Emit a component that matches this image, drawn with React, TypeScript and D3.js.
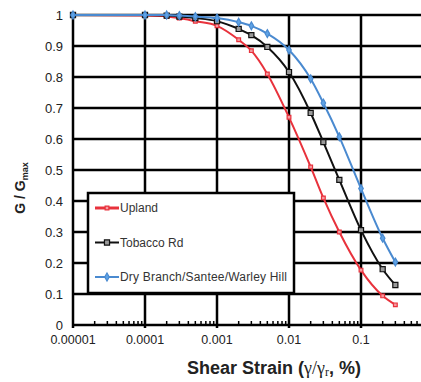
import React, { useEffect, useRef } from 'react';
import * as d3 from 'd3';

const strains = [0.00001, 0.0001, 0.0002, 0.0003, 0.0005, 0.001, 0.002, 0.003, 0.005, 0.01, 0.02, 0.03, 0.05, 0.1, 0.2, 0.3];
const upland = [1, 0.998, 0.995, 0.99, 0.98, 0.965, 0.92, 0.885, 0.81, 0.67, 0.51, 0.41, 0.3, 0.177, 0.094, 0.065];
const tobacco = [1, 1, 0.998, 0.995, 0.99, 0.98, 0.955, 0.935, 0.897, 0.816, 0.684, 0.59, 0.468, 0.306, 0.18, 0.129];
const dryBranch = [1, 1, 1, 0.998, 0.995, 0.99, 0.977, 0.965, 0.94, 0.887, 0.794, 0.716, 0.607, 0.44, 0.28, 0.203];
const seriesNames = ['Upland', 'Tobacco Rd', 'Dry Branch/Santee/Warley Hill'];
const xTicks = [0.00001, 0.0001, 0.001, 0.01, 0.1];
const xTickLabels = ['0.00001', '0.0001', '0.001', '0.01', '0.1'];
const yTicks = [0, 0.1, 0.2, 0.3, 0.4, 0.5, 0.6, 0.7, 0.8, 0.9, 1];

const Chart = ({ width = 421, height = 382 }) => {
  const ref = useRef<SVGSVGElement>(null);

  useEffect(() => {
    const svg = d3.select(ref.current).attr('width', width).attr('height', height);
    svg.selectAll('*').remove();

    const x = d3.scaleLog().domain([1e-5, 1]).range([73, 433]);
    const y = d3.scaleLinear().domain([0, 1]).range([325, 15]);

    const styles = [
      { stroke: '#e8323c', fill: '#f59aa0', shape: d3.symbolSquare, size: 14 },
      { stroke: '#111111', fill: '#9a9a9a', shape: d3.symbolSquare, size: 26 },
      { stroke: '#4a8ad0', fill: '#5fa3e6', shape: d3.symbolDiamond, size: 18 },
    ];
    const values = [upland, tobacco, dryBranch];

    // grid
    const grid = svg.append('g').attr('stroke', '#000').attr('stroke-width', 2.5);
    yTicks.forEach(t => {
      grid.append('line').attr('x1', x(1e-5)).attr('x2', width).attr('y1', y(t)).attr('y2', y(t));
    });
    xTicks.forEach(t => {
      grid.append('line').attr('x1', x(t)).attr('x2', x(t)).attr('y1', y(1)).attr('y2', y(0) + 3);
    });

    // minor ticks on x axis
    const minor: number[] = [];
    for (let e = -5; e < 0; e++) for (let m = 2; m < 10; m++) minor.push(m * Math.pow(10, e));
    svg.append('g').selectAll('line').data(minor).enter().append('line')
      .attr('x1', d => x(d)).attr('x2', d => x(d))
      .attr('y1', y(0)).attr('y2', y(0) - 4)
      .attr('stroke', '#000').attr('stroke-width', 1.5);

    // series
    const line = d3.line<number>()
      .curve(d3.curveMonotoneX)
      .x((_, i) => x(strains[i]))
      .y(d => y(d));

    values.forEach((vals, k) => {
      const s = styles[k];
      svg.append('path').attr('d', line(vals))
        .attr('fill', 'none').attr('stroke', s.stroke).attr('stroke-width', 2);
      svg.append('g').selectAll('path').data(vals).enter().append('path')
        .attr('d', d3.symbol().type(s.shape).size(s.size)())
        .attr('transform', (d, i) => `translate(${x(strains[i])},${y(d)})`)
        .attr('fill', s.fill).attr('stroke', s.stroke).attr('stroke-width', 1.2);
    });

    // axis labels
    svg.append('g').selectAll('text').data(yTicks).enter().append('text')
      .attr('x', 63).attr('y', d => y(d)).attr('dy', '0.35em')
      .attr('text-anchor', 'end')
      .style('font', '13px "Liberation Sans", Arial, sans-serif').attr('fill', '#222')
      .text(d => (d === 0 || d === 1 ? String(d) : d.toFixed(1)));

    svg.append('g').selectAll('text').data(xTicks).enter().append('text')
      .attr('x', d => x(d)).attr('y', 344)
      .attr('text-anchor', 'middle')
      .style('font', '12.5px "Liberation Sans", Arial, sans-serif').attr('fill', '#222')
      .text((_, i) => xTickLabels[i]);

    const yl = svg.append('text')
      .attr('transform', 'translate(25,188) rotate(-90)')
      .attr('text-anchor', 'middle')
      .style('font', 'bold 14px "Liberation Sans", Arial, sans-serif').attr('fill', '#222');
    yl.append('tspan').text('G / G');
    yl.append('tspan').attr('font-size', 9).attr('dy', 3).text('max');

    const xl = svg.append('text')
      .attr('x', 274).attr('y', 374)
      .attr('text-anchor', 'middle')
      .style('font', 'bold 18px "Liberation Sans", Arial, sans-serif').attr('fill', '#222');
    xl.append('tspan').text('Shear Strain (');
    xl.append('tspan').style('font-weight', 'normal').style('font-family', '"Liberation Serif", serif').text('γ/γ');
    xl.append('tspan').style('font-weight', 'normal').style('font-family', '"Liberation Serif", serif')
      .attr('font-size', 12).attr('dy', 2).text('r');
    xl.append('tspan').attr('dy', -2).text(', %)');

    // legend
    const legend = svg.append('g');
    legend.append('rect').attr('x', 88).attr('y', 193).attr('width', 206).attr('height', 100)
      .attr('fill', '#fff').attr('stroke', '#000').attr('stroke-width', 2.5);
    seriesNames.forEach((name, k) => {
      const s = styles[k];
      const ly = 208 + k * 34.5;
      const row = legend.append('g').attr('transform', `translate(0,${ly})`);
      row.append('line').attr('x1', 95).attr('x2', 119).attr('y1', 0).attr('y2', 0)
        .attr('stroke', s.stroke).attr('stroke-width', k === 0 ? 3 : 2);
      row.append('path').attr('d', d3.symbol().type(s.shape).size(s.size)())
        .attr('transform', 'translate(107,0)')
        .attr('fill', s.fill).attr('stroke', s.stroke).attr('stroke-width', 1.2);
      row.append('text').attr('x', 120).attr('y', 0).attr('dy', '0.35em')
        .style('font', '12px "Liberation Sans", Arial, sans-serif').attr('fill', '#333')
        .attr('textLength', k === 2 ? 167 : null)
        .text(name);
    });
  }, [width, height]);

  return <svg ref={ref}></svg>;
};

export default function App() {
  return (
    <div style={{ position: 'absolute', left: 0, top: 0, background: '#fff' }}>
      <Chart />
    </div>
  );
}
